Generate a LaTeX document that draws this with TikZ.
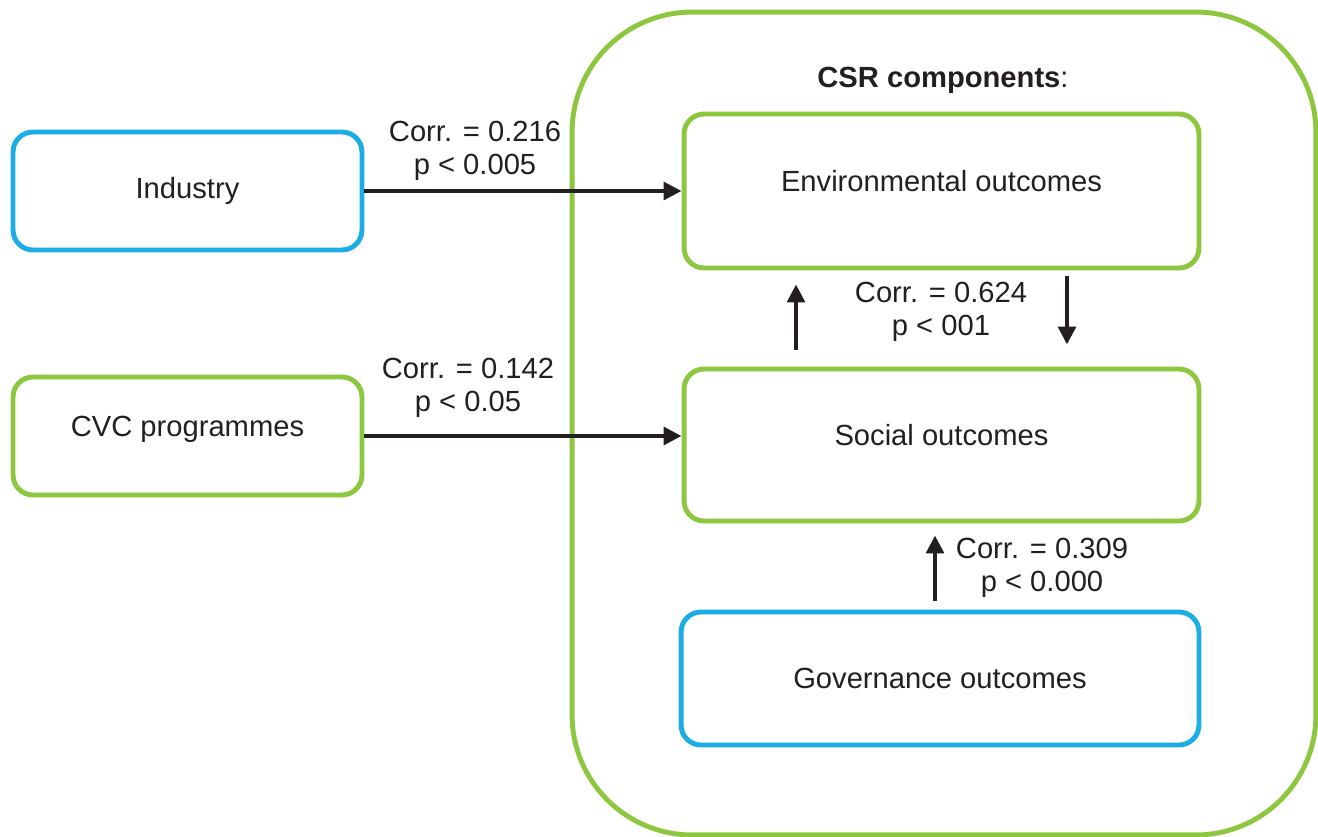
\documentclass[tikz,border=0pt]{standalone}
\usepackage{fontspec}
\setmainfont{Liberation Sans}
\usetikzlibrary{arrows.meta}

\definecolor{csrgreen}{RGB}{141,198,63}
\definecolor{csrblue}{RGB}{27,173,228}
\definecolor{ink}{RGB}{35,31,32}

\begin{document}
\begin{tikzpicture}[x=0.02cm, y=-0.02cm,
		font=\fontsize{16.6}{18.4}\selectfont,
		box/.style={draw, line width=2.8pt, rounded corners=0.4cm, align=center, text=ink},
		greenbox/.style={box, draw=csrgreen},
		bluebox/.style={box, draw=csrblue},
		raised/.style={text height=0.42cm, text depth=0.4cm},
		corr/.style={draw=ink, line width=2.5pt, -{Triangle[length=0.36cm, width=0.35cm]}},
		corrlabel/.style={align=center, text=ink}]
		\useasboundingbox (0,0) rectangle (1318,837);

		\node[draw=csrgreen, line width=2.8pt, rounded corners=2.4cm, minimum width=14.88cm, minimum height=16.46cm] (csr) at (944,423.5) {};
		\node[text=ink] (csrtitle) at (943,80) {{\bfseries CSR components}:};

		\node[bluebox, minimum width=6.98cm, minimum height=2.36cm] (industry) at (187.5,191) {Industry};
		\node[greenbox, raised, minimum width=6.98cm, minimum height=2.36cm] (cvc) at (187.5,436) {CVC programmes};

		\node[greenbox, raised, minimum width=10.3cm, minimum height=3.08cm] (env) at (941.5,191) {Environmental outcomes};
		\node[greenbox, raised, minimum width=10.3cm, minimum height=3.04cm] (social) at (941.5,445) {Social outcomes};
		\node[bluebox, minimum width=10.36cm, minimum height=2.66cm] (gov) at (940,678.5) {Governance outcomes};

		\draw[corr] (industry.east) -- (env.west);
		\draw[corr] (cvc.east) -- (cvc.east -| social.west);
		\draw[corr, shorten <=0.34cm, shorten >=0.28cm] ([xshift=-2.91cm]social.north) -- ([xshift=-2.91cm]env.south);
		\draw[corr, shorten <=0.12cm, shorten >=0.44cm] ([xshift=2.51cm]env.south) -- ([xshift=2.51cm]social.north);
		\draw[corr, shorten <=0.18cm, shorten >=0.24cm] ([xshift=-0.1cm]gov.north) -- ([xshift=-0.1cm]gov.north |- social.south);

		\node[corrlabel] (corrind) at (475,151) {Corr. = 0.216\\p < 0.005};
		\node[corrlabel] (corrcvc) at (468,388) {Corr. = 0.142\\p < 0.05};
		\node[corrlabel] (correnv) at (941,312) {Corr. = 0.624\\p < 001};
		\node[corrlabel] (corrgov) at (1042,568) {Corr. = 0.309\\p < 0.000};
	\end{tikzpicture}
\end{document}
